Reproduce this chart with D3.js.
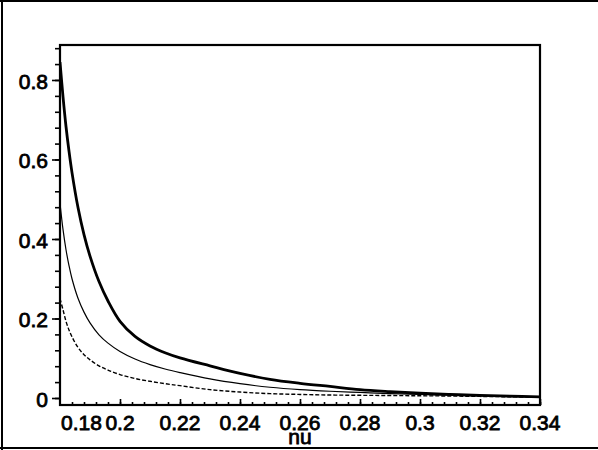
<!DOCTYPE html>
<html>
<head>
<meta charset="utf-8">
<script src="https://cdn.jsdelivr.net/npm/d3@7/dist/d3.min.js"></script>
<style>
  html, body { margin: 0; padding: 0; background: #fff; }
  svg { display: block; }
  text { font-family: "Liberation Sans", Arial, Helvetica, sans-serif; font-size: 21px; fill: #000; stroke: #000; stroke-width: 0.8px; }
</style>
</head>
<body>
<svg id="chart" width="598" height="450"></svg>
<script>
// ---- data ----
const nu = [0.180, 0.181, 0.182, 0.183, 0.184, 0.186, 0.188, 0.190, 0.193, 0.196,
            0.200, 0.205, 0.210, 0.215, 0.220, 0.230, 0.240, 0.250, 0.260, 0.270,
            0.280, 0.290, 0.300, 0.310, 0.320, 0.330, 0.340];
const seriesThick = [0.845, 0.758, 0.683, 0.621, 0.567, 0.479, 0.411, 0.357, 0.293, 0.244,
                     0.193, 0.155, 0.131, 0.114, 0.101, 0.081, 0.062, 0.047, 0.037, 0.029,
                     0.021, 0.016, 0.012, 0.009, 0.0065, 0.0045, 0.003];
const seriesThin  = [0.490, 0.424, 0.373, 0.333, 0.300, 0.251, 0.216, 0.189, 0.159, 0.138,
                     0.117, 0.098, 0.084, 0.073, 0.064, 0.048, 0.036, 0.027, 0.021, 0.017,
                     0.014, 0.011, 0.009, 0.007, 0.005, 0.0035, 0.002];
const seriesDash  = [0.250, 0.222, 0.193, 0.171, 0.154, 0.127, 0.109, 0.096, 0.081, 0.070,
                     0.059, 0.049, 0.042, 0.036, 0.031, 0.021, 0.015, 0.011, 0.009, 0.0075,
                     0.0068, 0.0062, 0.0056, 0.005, 0.004, 0.003, 0.002];
const xTickValues = [0.18, 0.20, 0.22, 0.24, 0.26, 0.28, 0.30, 0.32, 0.34];
const xTickLabels = ["0.18", "0.2", "0.22", "0.24", "0.26", "0.28", "0.3", "0.32", "0.34"];
const yTickValues = [0, 0.2, 0.4, 0.6, 0.8];
const yTickLabels = ["0", "0.2", "0.4", "0.6", "0.8"];
const xLabel = "nu";

// ---- layout ----
const svg = d3.select("#chart");
const L = 60, R = 540, T = 45, B = 405;
const x = d3.scaleLinear().domain([0.18, 0.34]).range([L, R]);
const y = d3.scaleLinear().domain([-0.0176, 0.888]).range([B, T]);

// outer frame
svg.append("line").attr("x1", 0).attr("x2", 598).attr("y1", 1).attr("y2", 1).attr("stroke", "#000").attr("stroke-width", 2);
svg.append("line").attr("x1", 2).attr("x2", 2).attr("y1", 0).attr("y2", 450).attr("stroke", "#000").attr("stroke-width", 2);
svg.append("line").attr("x1", 0).attr("x2", 598).attr("y1", 448).attr("y2", 448).attr("stroke", "#000").attr("stroke-width", 2);

// curves
svg.append("clipPath").attr("id", "clip").append("rect")
  .attr("x", L).attr("y", T).attr("width", R - L).attr("height", B - T);
const g = svg.append("g").attr("clip-path", "url(#clip)");
const line = d3.line().x((d, i) => x(nu[i])).y(d => y(d)).curve(d3.curveCatmullRom.alpha(0.5));
g.append("path").attr("d", line(seriesDash)).attr("fill", "none").attr("stroke", "#000")
  .attr("stroke-width", 1.4).attr("stroke-dasharray", "4,2");
g.append("path").attr("d", line(seriesThin)).attr("fill", "none").attr("stroke", "#000")
  .attr("stroke-width", 1.2);
g.append("path").attr("d", line(seriesThick)).attr("fill", "none").attr("stroke", "#000")
  .attr("stroke-width", 2.8);

// y axis (ticks pointing left)
const yMinor = d3.range(0, 0.881, 0.04);
const yAxisMinor = d3.axisLeft(y).tickValues(yMinor).tickSize(5).tickFormat("");
const ya = svg.append("g").attr("transform", `translate(${L},0)`).call(yAxisMinor);
const yAxisMajor = d3.axisLeft(y).tickValues(yTickValues).tickSize(8).tickFormat("");
const yb = svg.append("g").attr("transform", `translate(${L},0)`).call(yAxisMajor);
[ya, yb].forEach(s => { s.select(".domain").remove(); s.selectAll("line").attr("stroke", "#000").attr("stroke-width", 1.6); });
svg.append("g").selectAll("text").data(yTickValues).join("text")
  .attr("x", 48).attr("y", d => y(d) + 9).attr("text-anchor", "end")
  .text((d, i) => yTickLabels[i]);

// x axis (ticks pointing up)
const xMinor = d3.range(0.184, 0.3401, 0.004);
const xAxisMinor = d3.axisTop(x).tickValues(xMinor).tickSize(3).tickFormat("");
const xa = svg.append("g").attr("transform", `translate(0,${B})`).call(xAxisMinor);
const xAxisMajor = d3.axisTop(x).tickValues(xTickValues.slice(1)).tickSize(6).tickFormat("");
const xb = svg.append("g").attr("transform", `translate(0,${B})`).call(xAxisMajor);
[xa, xb].forEach(s => { s.select(".domain").remove(); s.selectAll("line").attr("stroke", "#000").attr("stroke-width", 1.6); });
svg.append("g").selectAll("text").data(xTickValues).join("text")
  .attr("x", (d, i) => i === 0 ? x(d) + 1 : x(d))
  .attr("y", 430)
  .attr("text-anchor", (d, i) => i === 0 ? "start" : "middle")
  .text((d, i) => xTickLabels[i]);

// plot box
svg.append("rect").attr("x", L).attr("y", T).attr("width", R - L).attr("height", B - T)
  .attr("fill", "none").attr("stroke", "#000").attr("stroke-width", 2.2);

// axis title
svg.append("text").attr("x", 300).attr("y", 444).attr("text-anchor", "middle").text(xLabel);
</script>
</body>
</html>
